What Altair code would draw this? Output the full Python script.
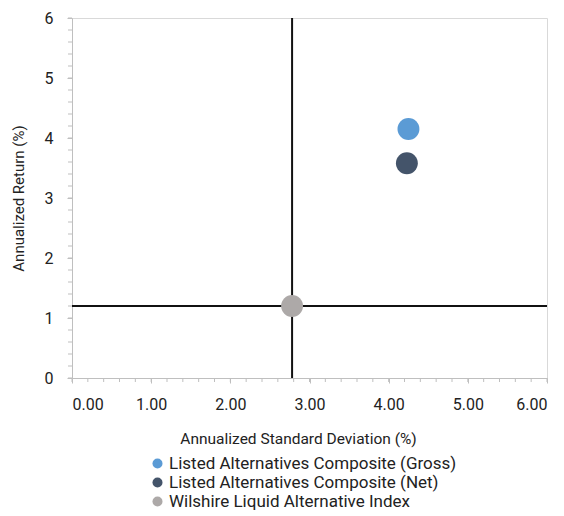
import altair as alt
import pandas as pd

series = ["Listed Alternatives Composite (Gross)",
          "Listed Alternatives Composite (Net)",
          "Wilshire Liquid Alternative Index"]
std_dev = [4.25, 4.23, 2.78]
ann_return = [4.15, 3.58, 1.20]
colors = ["#5B9BD5", "#44546A", "#ADA9A8"]

ref_x = [2.78]
ref_y = [1.20]

df = pd.DataFrame({"series": series, "sd": std_dev, "ret": ann_return})
vx = pd.DataFrame({"v": ref_x})
hy = pd.DataFrame({"v": ref_y})

FONT = "Roboto"

x_scale = alt.Scale(domain=[0, 6], nice=False, zero=True)
y_scale = alt.Scale(domain=[0, 6], nice=False, zero=True)

minor_x = [round(i * 0.2, 1) for i in range(31)]
minor_y = [round(i * 0.2, 1) for i in range(31)]

xaxis = alt.Axis(values=[0, 1, 2, 3, 4, 5, 6], format=".2f", grid=False,
                 domainColor="#BFBFBF", tickColor="#BFBFBF", tickSize=5,
                 labelFont=FONT, labelFontSize=16, labelColor="#222222",
                 titleFont=FONT, titleFontSize=15.5, titleFontWeight="normal",
                 titleColor="#222222", labelPadding=13, titlePadding=19,
                 titleX=226, titleAlign="center", titleAnchor="start")
yaxis = alt.Axis(values=[0, 1, 2, 3, 4, 5, 6], format="d", grid=False,
                 domainColor="#BFBFBF", tickColor="#BFBFBF", tickSize=5,
                 labelFont=FONT, labelFontSize=16, labelColor="#222222",
                 titleFont=FONT, titleFontSize=15, titleFontWeight="normal",
                 titleColor="#222222", labelPadding=14, titlePadding=18)

points = alt.Chart(df).mark_point(filled=True, opacity=1, size=480).encode(
    x=alt.X("sd:Q", scale=x_scale, axis=xaxis,
            title="Annualized Standard Deviation (%)"),
    y=alt.Y("ret:Q", scale=y_scale, axis=yaxis, title="Annualized Return (%)"),
    color=alt.Color("series:N", scale=alt.Scale(domain=series, range=colors),
                    legend=alt.Legend(title=None, orient="none", legendX=77,
                                      legendY=437, direction="vertical",
                                      labelFont=FONT, labelFontSize=17,
                                      labelColor="#222222", symbolType="circle",
                                      symbolSize=100, rowPadding=1,
                                      labelOffset=3, labelLimit=0)),
)

minorx_df = pd.DataFrame({"v": minor_x})
minory_df = pd.DataFrame({"v": minor_y})
minor_x_ticks = alt.Chart(minorx_df).mark_rule(color="#BFBFBF").encode(
    x=alt.X("v:Q", scale=x_scale), y=alt.value(360), y2=alt.value(364))
minor_y_ticks = alt.Chart(minory_df).mark_rule(color="#BFBFBF").encode(
    y=alt.Y("v:Q", scale=y_scale), x=alt.value(0), x2=alt.value(-4))

vline = alt.Chart(vx).mark_rule(color="#111111", strokeWidth=2).encode(
    x=alt.X("v:Q", scale=x_scale))
hline = alt.Chart(hy).mark_rule(color="#111111", strokeWidth=2).encode(
    y=alt.Y("v:Q", scale=y_scale))

chart = alt.layer(minor_x_ticks, minor_y_ticks, vline, hline, points).properties(
    width=475, height=360,
    autosize=alt.AutoSizeParams(type="none"),
    padding={"left": 64, "top": 10, "right": 9, "bottom": 140}
).configure_view(stroke="#D9D9D9", strokeWidth=1)

chart.save("out.html", embed_options={"renderer": "svg", "actions": False})
